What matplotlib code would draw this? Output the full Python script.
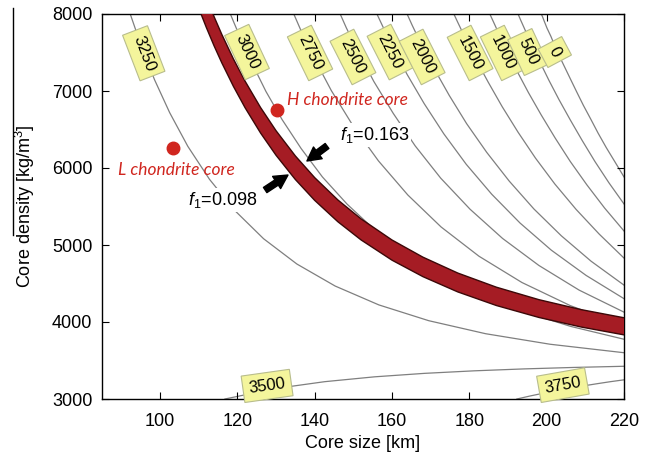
import matplotlib
matplotlib.use("Agg")
import matplotlib.pyplot as plt

plt.rcParams['font.family'] = ['Liberation Sans', 'DejaVu Sans']
plt.rcParams['mathtext.fontset'] = 'custom'
plt.rcParams['mathtext.rm'] = 'Liberation Sans'
plt.rcParams['mathtext.it'] = 'Liberation Sans:italic'

# ---- data (core size [km], core density [kg/m3]) ----
r_0 = [198.6, 198.9, 199.4, 200.1, 201.1, 202.1, 203.3, 204.7, 206.2, 207.8, 209.5, 211.4, 213.3, 215.4, 217.7, 220.0]
rho_0 = [8000, 7968, 7903, 7815, 7709, 7587, 7452, 7306, 7150, 6985, 6813, 6635, 6453, 6266, 6076, 5884]
r_500 = [192.6, 193.3, 194.6, 196.3, 198.3, 200.6, 203.2, 206.1, 209.2, 212.5, 216.1, 220.0]
rho_500 = [8000, 7918, 7772, 7586, 7372, 7137, 6887, 6625, 6356, 6083, 5808, 5533]
r_1000 = [185.3, 186.2, 187.8, 189.9, 192.4, 195.3, 198.6, 202.2, 206.1, 210.4, 215.0, 220.0]
rho_1000 = [8000, 7902, 7726, 7505, 7252, 6978, 6688, 6389, 6085, 5781, 5479, 5182]
r_1500 = [176.0, 177.1, 179.1, 181.7, 184.9, 188.5, 192.6, 197.1, 202.1, 207.6, 213.6, 220.0]
rho_1500 = [8000, 7882, 7672, 7409, 7113, 6796, 6465, 6129, 5793, 5463, 5141, 4830]
r_2000 = [163.9, 165.2, 167.6, 170.9, 174.8, 179.3, 184.5, 190.3, 196.7, 203.8, 211.5, 220.0]
rho_2000 = [8000, 7856, 7603, 7290, 6943, 6576, 6203, 5831, 5468, 5119, 4789, 4479]
r_2250 = [156.1, 157.6, 160.3, 163.9, 168.3, 173.4, 179.2, 185.8, 193.1, 201.2, 210.2, 220.0]
rho_2250 = [8000, 7840, 7559, 7216, 6838, 6444, 6048, 5659, 5286, 4933, 4605, 4303]
r_2500 = [146.6, 148.2, 151.3, 155.3, 160.3, 166.0, 172.6, 180.2, 188.6, 198.0, 208.4, 220.0]
rho_2500 = [8000, 7819, 7505, 7124, 6711, 6287, 5868, 5464, 5085, 4734, 4414, 4128]
r_2750 = [134.6, 136.4, 139.8, 144.3, 149.9, 156.5, 164.1, 172.7, 182.5, 193.6, 206.1, 220.0]
rho_2750 = [8000, 7792, 7433, 7006, 6550, 6092, 5649, 5234, 4854, 4513, 4213, 3952]
r_3000 = [118.2, 119.2, 121.2, 124.0, 127.4, 131.6, 136.5, 142.0, 148.4, 155.5, 163.6, 172.6, 182.6, 193.8, 206.2, 220.0]
rho_3000 = [8000, 7879, 7643, 7339, 6994, 6627, 6253, 5884, 5530, 5197, 4889, 4609, 4358, 4137, 3943, 3776]
r_3250 = [92.3, 93.4, 95.5, 98.6, 102.5, 107.2, 112.8, 119.3, 126.8, 135.4, 145.3, 156.6, 169.5, 184.2, 200.9, 220.0]
rho_3250 = [8000, 7840, 7532, 7145, 6719, 6281, 5853, 5450, 5081, 4753, 4467, 4222, 4017, 3848, 3711, 3601]
r_3500 = [116.8, 129.7, 142.6, 155.5, 168.4, 181.3, 194.2, 207.1, 220.0]
rho_3500 = [3000, 3135, 3225, 3288, 3333, 3366, 3391, 3410, 3425]
r_3750 = [192.3, 195.7, 199.2, 202.7, 206.1, 209.6, 213.1, 216.5, 220.0]
rho_3750 = [3000, 3039, 3076, 3110, 3141, 3171, 3199, 3225, 3249]

band_r = [106, 108, 110, 112, 114, 116, 119, 122, 126, 130, 135, 140, 146, 152, 160, 168, 177, 187, 198, 209, 220]
band_f098 = [8648, 8353, 8078, 7823, 7585, 7364, 7059, 6783, 6455, 6166, 5851, 5580, 5302, 5066, 4803, 4589, 4391, 4214, 4059, 3934, 3833]
band_f163 = [9071, 8763, 8477, 8211, 7964, 7733, 7415, 7128, 6786, 6485, 6157, 5875, 5585, 5339, 5065, 4842, 4636, 4452, 4290, 4160, 4055]

contour_labels = ["3250", "3000", "2750", "2500", "2250", "2000", "1500", "1000", "500", "0", "3500", "3750"]
label_r = [95.8, 122.5, 138.8, 149.9, 159.5, 167.8, 180.2, 188.7, 195.2, 202.1, 127.7, 204.2]
label_rho = [7490, 7506, 7494, 7442, 7506, 7442, 7494, 7494, 7506, 7506, 3170, 3180]
label_rot = [-69, -65, -64, -63, -63, -63, -63, -64, -65, -62, 8, 10]

meteorite_names = ["H chondrite core", "L chondrite core"]
meteorite_r = [130.3, 103.4]
meteorite_rho = [6750, 6260]

x_ticks = [100, 120, 140, 160, 180, 200, 220]
y_ticks = [3000, 4000, 5000, 6000, 7000, 8000]

curves = [(r_0, rho_0), (r_500, rho_500), (r_1000, rho_1000), (r_1500, rho_1500),
          (r_2000, rho_2000), (r_2250, rho_2250), (r_2500, rho_2500), (r_2750, rho_2750),
          (r_3000, rho_3000), (r_3250, rho_3250), (r_3500, rho_3500), (r_3750, rho_3750)]

# ---- figure ----
fig = plt.figure(figsize=(6.53, 4.58), dpi=100)
ax = fig.add_axes([102/653, 1-399/458, 522/653, 385/458])

for xs, ys in curves:
    ax.plot(xs, ys, color="#7f7f7f", lw=0.9, zorder=1)

ax.fill_between(band_r, band_f098, band_f163, facecolor="#a51c24", edgecolor="none", zorder=3)
ax.plot(band_r, band_f098, color="#3c0808", lw=1.0, zorder=3)
ax.plot(band_r, band_f163, color="#3c0808", lw=1.0, zorder=3)

for s, x, y, rot in zip(contour_labels, label_r, label_rho, label_rot):
    ax.text(x, y, s, rotation=rot, rotation_mode='anchor', ha='center', va='center', fontsize=12,
            zorder=5, bbox=dict(boxstyle='square,pad=0.35', facecolor='#f4f59c', edgecolor='#b8bd8c', lw=0.8))

red = '#d0261f'
ax.plot(meteorite_r, meteorite_rho, 'o', color=red, ms=9, ls='none', zorder=6)
ax.text(132.8, 6883, meteorite_names[0], color=red, fontsize=12.5, family='Lato', style='italic', va='center', zorder=6)
ax.text(89.1, 5974, meteorite_names[1], color=red, fontsize=12.5, family='Lato', style='italic', va='center', zorder=6)

wb = dict(boxstyle='square,pad=0.1', facecolor='white', edgecolor='none')
ax.text(146.5, 6429, "$\\mathit{f}_1$=0.163", fontsize=13, va='center', zorder=6, bbox=wb)
ax.text(107.2, 5584, "$\\mathit{f}_1$=0.098", fontsize=13, va='center', zorder=6, bbox=wb)
ap = dict(arrowstyle='simple,head_width=0.75,head_length=0.7,tail_width=0.32', color='black',
          mutation_scale=14, shrinkA=0, shrinkB=0)
ax.annotate("", xy=(138.0, 6091), xytext=(143.2, 6286), arrowprops=ap, zorder=7)
ax.annotate("", xy=(133.1, 5909), xytext=(127.2, 5714), arrowprops=ap, zorder=7)

ax.set_xlim(85, 220)
ax.set_ylim(3000, 8000)
ax.set_xticks(x_ticks)
ax.set_yticks(y_ticks)
ax.tick_params(direction='in', top=True, right=True, length=5, labelsize=13)
ax.tick_params(axis='x', pad=10)
ax.tick_params(axis='y', pad=7)
ax.set_xlabel("Core size [km]", fontsize=13)
ax.set_ylabel("Core density [kg/m$^3$]", fontsize=13)
ax.xaxis.set_label_coords(0.5, (399 - 435) / 385)
ax.yaxis.set_label_coords((37 - 102) / 522, 0.5)
for sp in ax.spines.values():
    sp.set_linewidth(1.0)

fig.add_artist(plt.Line2D([13/653, 13/653], [1-8/458, 1-235/458], color='black', lw=1,
                          transform=fig.transFigure))
fig.savefig("out.png", dpi=100)
